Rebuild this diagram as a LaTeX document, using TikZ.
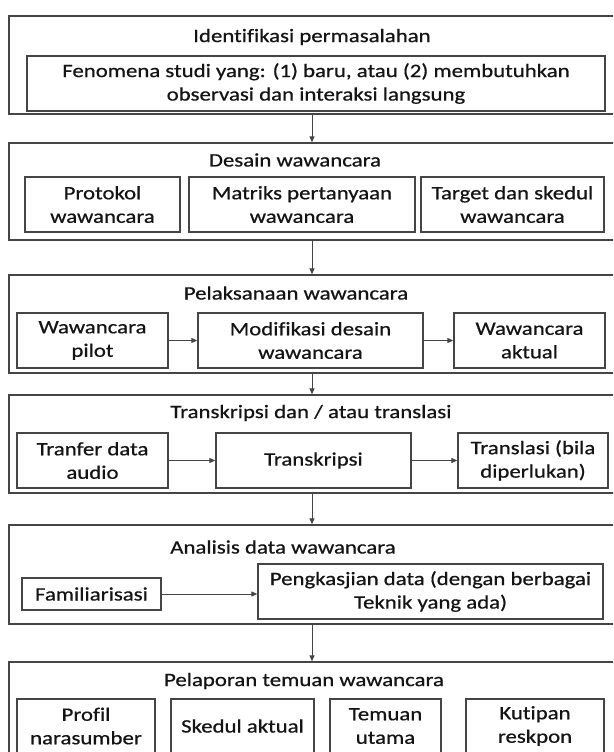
\documentclass[tikz,border=0pt]{standalone}
\usepackage{fontspec}
\setmainfont{Carlito}[FakeStretch=1.2,FakeBold=0.6,Ligatures=NoCommon]
\usetikzlibrary{arrows.meta}
\definecolor{linegray}{HTML}{454545}
\definecolor{txt}{HTML}{141414}
\begin{document}
\begin{tikzpicture}[x=1pt,y=-1pt,
  every node/.style={text=txt, font=\fontsize{19}{23.5}\selectfont},
  outerbox/.style={draw=linegray, line width=1.3pt, rectangle, inner sep=0pt},
  innerbox/.style={draw=linegray, line width=1.3pt, rectangle, inner sep=0pt, align=center},
  ttl/.style={inner sep=0pt},
  arr/.style={draw=linegray, line width=1pt, -{Triangle[length=6pt,width=5pt]}}]
\useasboundingbox (0,0) rectangle (613,752);
\fill[white] (0,0) rectangle (613,752);
\clip (0,0) rectangle (613,752);

% Box 1
\node[outerbox, minimum width=606pt, minimum height=98pt] (b1) at (312,65) {};
\node[ttl] (t1) at (312,37) {Identifikasi permasalahan};
\node[innerbox, minimum width=578pt, minimum height=55pt] (i1) at (316,83.5) {Fenomena studi yang: (1) baru, atau (2) membutuhkan\\observasi dan interaksi langsung};

% Box 2
\node[outerbox, minimum width=606pt, minimum height=97pt] (b2) at (312,191.5) {};
\node[ttl] (t2) at (295,160) {Desain wawancara};
\node[innerbox, minimum width=155pt, minimum height=55pt] (protokol) at (102.5,204.5) {Protokol\\wawancara};
\node[innerbox, minimum width=226pt, minimum height=55pt] (matriks) at (302,204.5) {Matriks pertanyaan\\wawancara};
\node[innerbox, minimum width=183pt, minimum height=55pt] (target) at (512.5,204.5) {Target dan skedul\\wawancara};

% Box 3
\node[outerbox, minimum width=606pt, minimum height=98pt] (b3) at (312,324) {};
\node[ttl] (t3) at (296,293) {Pelaksanaan wawancara};
\node[innerbox, minimum width=151pt, minimum height=55pt] (pilot) at (92.5,340.5) {Wawancara\\pilot};
\node[innerbox, minimum width=225pt, minimum height=55pt] (modif) at (310.5,340.5) {Modifikasi desain\\wawancara};
\node[innerbox, minimum width=151pt, minimum height=55pt] (aktual) at (529.5,340.5) {Wawancara\\aktual};
\draw[arr] (pilot) -- (modif);
\draw[arr] (modif) -- (aktual);

% Box 4
\node[outerbox, minimum width=606pt, minimum height=98pt] (b4) at (312,444) {};
\node[ttl] (t4) at (311,413) {Transkripsi dan / atau translasi};
\node[innerbox, minimum width=151pt, minimum height=55pt] (tranfer) at (92.5,460.5) {Tranfer data\\audio};
\node[innerbox, minimum width=195pt, minimum height=55pt] (transk) at (313.5,460.5) {Transkripsi};
\node[innerbox, minimum width=150pt, minimum height=55pt] (transl) at (533,460.5) {Translasi (bila\\diperlukan)};
\draw[arr] (tranfer) -- (transk);
\draw[arr] (transk) -- (transl);

% Box 5
\node[outerbox, minimum width=606pt, minimum height=99pt] (b5) at (312,574.5) {};
\node[ttl] (t5) at (283,547) {Analisis data wawancara};
\node[innerbox, minimum width=139pt, minimum height=32pt] (fam) at (91.5,594) {Familiarisasi};
\node[innerbox, minimum width=345pt, minimum height=55pt] (peng) at (430.5,591.5) {Pengkasjian data (dengan berbagai\\Teknik yang ada)};
\draw[arr] (fam.east) -- (fam.east -| peng.west);

% Box 6
\node[outerbox, minimum width=606pt, minimum height=138pt] (b6) at (312,731) {};
\node[ttl] (t6) at (304,681) {Pelaporan temuan wawancara};
\node[innerbox, minimum width=138pt, minimum height=54pt] (profil) at (86,726) {Profil\\narasumber};
\node[innerbox, minimum width=143pt, minimum height=54pt] (skedul) at (242.5,726) {Skedul aktual};
\node[innerbox, minimum width=111pt, minimum height=54pt] (temuan) at (385.5,726) {Temuan\\utama};
\node[innerbox, minimum width=138pt, minimum height=54pt] (kutipan) at (535,726) {Kutipan\\reskpon};

% Vertical connectors
\draw[arr] (b1) -- (b2);
\draw[arr] (b2) -- (b3);
\draw[arr] (b3) -- (b4);
\draw[arr] (b4) -- (b5);
\draw[arr] (b5) -- (b6);
\end{tikzpicture}
\end{document}
